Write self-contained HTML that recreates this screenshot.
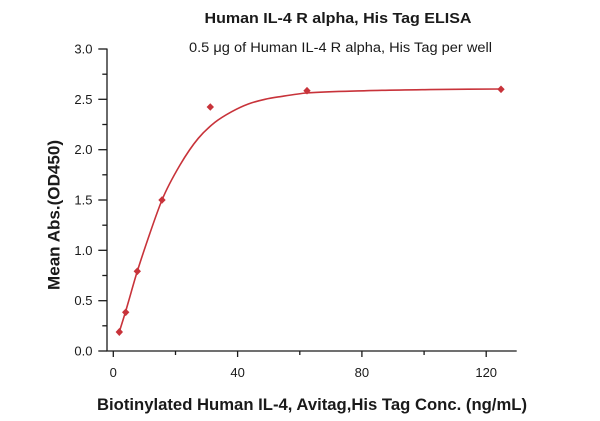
<!DOCTYPE html>
<html><head><meta charset="utf-8"><style>
html,body{margin:0;padding:0;background:#fff;}
svg{display:block;}
text{font-family:"Liberation Sans",sans-serif;fill:#1a1a1a;}
</style></head><body>
<svg width="600" height="421" viewBox="0 0 600 421" xmlns="http://www.w3.org/2000/svg">
<rect width="600" height="421" fill="#fff"/>
<text x="338" y="23" font-size="15" font-weight="bold" text-anchor="middle" textLength="267" lengthAdjust="spacingAndGlyphs">Human IL-4 R alpha, His Tag ELISA</text>
<text x="340.5" y="52" font-size="13.5" text-anchor="middle" textLength="303" lengthAdjust="spacingAndGlyphs">0.5 μg of Human IL-4 R alpha, His Tag per well</text>
<g stroke="#1a1a1a" stroke-width="1.3" fill="none">
<line x1="107" y1="48.5" x2="107" y2="351.5"/>
<line x1="106.5" y1="351" x2="516.7" y2="351"/>
<line x1="98.3" y1="49" x2="107" y2="49"/>
<line x1="98.3" y1="99.3" x2="107" y2="99.3"/>
<line x1="98.3" y1="149.7" x2="107" y2="149.7"/>
<line x1="98.3" y1="200" x2="107" y2="200"/>
<line x1="98.3" y1="250.3" x2="107" y2="250.3"/>
<line x1="98.3" y1="300.7" x2="107" y2="300.7"/>
<line x1="98.3" y1="351" x2="107" y2="351"/>
<line x1="102.3" y1="74.2" x2="107" y2="74.2"/>
<line x1="102.3" y1="124.5" x2="107" y2="124.5"/>
<line x1="102.3" y1="174.8" x2="107" y2="174.8"/>
<line x1="102.3" y1="225.2" x2="107" y2="225.2"/>
<line x1="102.3" y1="275.5" x2="107" y2="275.5"/>
<line x1="102.3" y1="325.8" x2="107" y2="325.8"/>
<line x1="113.3" y1="351" x2="113.3" y2="357"/>
<line x1="237.6" y1="351" x2="237.6" y2="357"/>
<line x1="361.9" y1="351" x2="361.9" y2="357"/>
<line x1="486.2" y1="351" x2="486.2" y2="357"/>
<line x1="175.5" y1="351" x2="175.5" y2="355"/>
<line x1="299.8" y1="351" x2="299.8" y2="355"/>
<line x1="424.1" y1="351" x2="424.1" y2="355"/>
</g>
<g font-size="13" text-anchor="end" fill="#222">
<text x="92.5" y="53.5">3.0</text>
<text x="92.5" y="103.8">2.5</text>
<text x="92.5" y="154.2">2.0</text>
<text x="92.5" y="204.5">1.5</text>
<text x="92.5" y="254.8">1.0</text>
<text x="92.5" y="305.2">0.5</text>
<text x="92.5" y="355.5">0.0</text>
</g>
<g font-size="13" text-anchor="middle">
<text x="113.3" y="377">0</text>
<text x="237.6" y="377">40</text>
<text x="361.9" y="377">80</text>
<text x="486.2" y="377">120</text>
</g>
<text x="312" y="410" font-size="17" font-weight="bold" text-anchor="middle" textLength="430" lengthAdjust="spacingAndGlyphs">Biotinylated Human IL-4, Avitag,His Tag Conc. (ng/mL)</text>
<text transform="translate(59.5,215) rotate(-90)" x="0" y="0" font-size="16.5" font-weight="bold" text-anchor="middle" textLength="150" lengthAdjust="spacingAndGlyphs">Mean Abs.(OD450)</text>
<path fill="none" stroke="#c8333a" stroke-width="1.6" d="M119.3,331.7 C121.3,325.7 123.3,319.1 125.3,312.5 C129.3,299.3 133.3,284.1 137.3,271.3 C141.53,257.75 145.77,245.28 150,233 C154,221.4 158,209.72 162,200 C168,185.42 174,175.2 180,165 C186.1,154.63 192.2,145.6 198.3,138.3 C203.87,131.64 209.43,126.74 215,122.3 C220.57,117.86 226.13,114.76 231.7,111.7 C237.23,108.66 242.77,106.06 248.3,104 C253.87,101.92 259.43,100.57 265,99.3 C270.57,98.03 276.13,97.29 281.7,96.4 C290.03,95.07 298.37,93.67 306.7,93 C326.7,91.4 346.7,91.26 366.7,90.7 C387.8,90.11 408.9,89.88 430,89.6 C453.67,89.29 477.33,89.12 501,89"/>
<g fill="#c8333a">
<path d="M119.3,328 L123,332 L119.3,336 L115.6,332 Z"/>
<path d="M125.7,308.5 L129.4,312.3 L125.7,316.1 L122,312.3 Z"/>
<path d="M137.3,267.5 L141,271.3 L137.3,275.1 L133.6,271.3 Z"/>
<path d="M162,196.2 L165.7,200 L162,203.8 L158.3,200 Z"/>
<path d="M210.3,103.2 L214,107 L210.3,110.8 L206.6,107 Z"/>
<path d="M307,86.9 L310.7,90.7 L307,94.5 L303.3,90.7 Z"/>
<path d="M501,85.5 L504.7,89.3 L501,93.1 L497.3,89.3 Z"/>
</g>
</svg>
</body></html>
